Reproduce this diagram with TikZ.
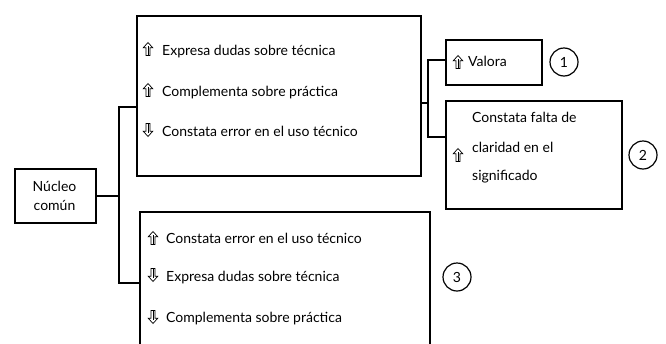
\documentclass[tikz,border=0pt]{standalone}
\usepackage{fontspec}
\setmainfont{Lato}
\begin{document}
\begin{tikzpicture}[x=1pt,y=-1pt,
 box/.style={draw, line width=1.5pt, anchor=north west, inner sep=0pt},
 txt/.style={anchor=base west, inner sep=0pt, font=\fontsize{14}{16}\selectfont},
 num/.style={draw, circle, minimum size=28pt, inner sep=0pt, line width=1.2pt, font=\fontsize{14}{16}\selectfont},
 conn/.style={line width=1.5pt},
 pics/uparr/.style={code={
   \draw[line width=0.7pt, line join=miter] (0,-6.5) -- (4.8,-1.2) -- (2,-1.2) -- (2,6.5) -- (-2,6.5) -- (-2,-1.2) -- (-4.8,-1.2) -- cycle;
   \draw[line width=0.6pt] (0,-3) -- (0,6.5);}},
 pics/downarr/.style={code={
   \draw[line width=0.7pt, line join=miter] (0,6.5) -- (4.8,1.2) -- (2,1.2) -- (2,-6.5) -- (-2,-6.5) -- (-2,1.2) -- (-4.8,1.2) -- cycle;
   \draw[line width=0.6pt] (0,3) -- (0,-6.5);}}]
\clip (0,0) rectangle (666,343);
% boxes
\node[box, minimum width=81pt, minimum height=54pt] (nucleo) at (14,168) {};
\node[box, minimum width=284pt, minimum height=160pt] (top) at (136,15) {};
\node[box, minimum width=290pt, minimum height=149pt] (bot) at (139,211) {};
\node[box, minimum width=96pt, minimum height=45pt] (valora) at (445,39) {};
\node[box, minimum width=176pt, minimum height=108pt] (box2) at (445,100) {};
% nucleo text
\node[anchor=base, inner sep=0pt, font=\fontsize{14}{16}\selectfont] (n1) at (54.5,191) {Núcleo};
\node[anchor=base, inner sep=0pt, font=\fontsize{14}{16}\selectfont] (n2) at (54.5,210) {común};
% top box text
\pic at (148,49) {uparr};
\node[txt] (tt1) at (162,55) {Expresa dudas sobre técnica};
\pic at (148,90) {uparr};
\node[txt] (tt2) at (162,96.5) {Complementa sobre práctica};
\pic at (148,130) {downarr};
\node[txt] (tt3) at (162,136.5) {Constata error en el uso técnico};
% bottom box text
\pic at (153,238) {uparr};
\node[txt] (bt1) at (166,243) {Constata error en el uso técnico};
\pic at (153,275) {downarr};
\node[txt] (bt2) at (166,281) {Expresa dudas sobre técnica};
\pic at (153,317) {downarr};
\node[txt] (bt3) at (166,322) {Complementa sobre práctica};
% valora
\pic at (458,62) {uparr};
\node[txt] (vt) at (468,66) {Valora};
% box2
\pic at (458,155) {uparr};
\node[txt] (ct1) at (472,122) {Constata falta de};
\node[txt] (ct2) at (472,152) {claridad en el};
\node[txt] (ct3) at (472,180) {significado};
% numbers
\node[num] (c1) at (564,62) {1};
\node[num] (c2) at (643,155) {2};
\node[num] (c3) at (457,277) {3};
% connectors
\coordinate (t1) at (119,107);
\coordinate (t2) at (119,283);
\draw[conn] (nucleo.east) -- (nucleo.east -| t1);
\draw[conn] (top.west |- t1) -- (t1) -- (t2) -- (bot.west |- t2);
\coordinate (rm) at (428,103);
\coordinate (r1) at (428,60);
\coordinate (r2) at (428,137);
\draw[conn] (top.east |- rm) -- (rm);
\draw[conn] (valora.west |- r1) -- (r1) -- (r2) -- (box2.west |- r2);
\end{tikzpicture}
\end{document}
